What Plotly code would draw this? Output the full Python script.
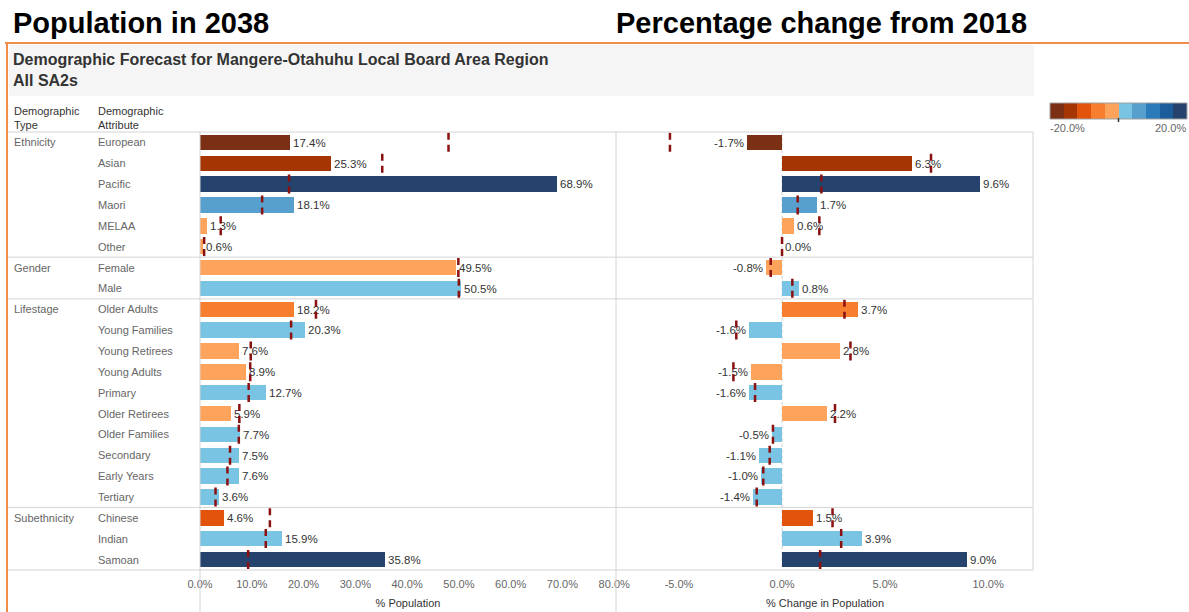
import plotly.graph_objects as go

W, H = 1189, 612

# ---------------- data ----------------
demo_types = ["Ethnicity"] * 6 + ["Gender"] * 2 + ["Lifestage"] * 10 + ["Subethnicity"] * 3
attributes = ["European", "Asian", "Pacific", "Maori", "MELAA", "Other",
              "Female", "Male",
              "Older Adults", "Young Families", "Young Retirees", "Young Adults", "Primary",
              "Older Retirees", "Older Families", "Secondary", "Early Years", "Tertiary",
              "Chinese", "Indian", "Samoan"]
pop_2038 = [17.4, 25.3, 68.9, 18.1, 1.3, 0.6,
            49.5, 50.5,
            18.2, 20.3, 7.6, 8.9, 12.7, 5.9, 7.7, 7.5, 7.6, 3.6,
            4.6, 15.9, 35.8]
pop_ref = [48.0, 35.2, 17.2, 12.0, 4.0, 0.8,
           49.9, 50.0,
           22.4, 17.6, 9.8, 9.7, 9.4, 7.6, 7.5, 5.8, 5.3, 3.0,
           13.5, 12.7, 9.3]
pct_change = [-1.7, 6.3, 9.6, 1.7, 0.6, 0.0,
              -0.8, 0.8,
              3.7, -1.6, 2.8, -1.5, -1.6, 2.2, -0.5, -1.1, -1.0, -1.4,
              1.5, 3.9, 9.0]
change_ref = [-5.44, 7.23, 1.91, 0.76, 1.81, 0.0,
              -0.55, 0.5,
              3.03, -2.22, 3.32, -2.36, -1.31, 2.57, -0.44, -0.6, -0.91, -1.23,
              2.45, 2.87, 1.85]
# colour step (0..9) of each row on the diverging palette
color_step = [0, 1, 9, 6, 4, 4,
              4, 5,
              3, 5, 4, 4, 5, 4, 5, 5, 5, 5,
              2, 5, 9]
palette = ["#7b2f14", "#a53503", "#e2530c", "#f67e2e", "#fda35c",
           "#79c4e2", "#57a0ce", "#2b7bba", "#1b5c9a", "#25436d"]
legend_bins = [-18, -14, -10, -6, -2, 2, 6, 10, 14, 18]
left_ticks = [0, 10, 20, 30, 40, 50, 60, 70, 80]
right_ticks = [-5, 0, 5, 10]

# --------------- helpers ---------------
def px(x):
    return x / W

def py(y):
    return 1 - y / H

FONT = "Liberation Sans, Arial, sans-serif"
rows = list(range(len(attributes)))
bar_colors = [palette[s] for s in color_step]

fig = go.Figure()

# population bars
fig.add_trace(go.Bar(
    x=pop_2038, y=rows, orientation="h", xaxis="x", yaxis="y",
    marker=dict(color=bar_colors, line=dict(width=0)), width=0.74,
    text=[f"{v:.1f}%" for v in pop_2038], textposition="outside",
    textfont=dict(size=11.5, color="#333333", family=FONT),
    constraintext="none", cliponaxis=False, showlegend=False,
))
# change bars
fig.add_trace(go.Bar(
    x=pct_change, y=rows, orientation="h", xaxis="x2", yaxis="y",
    marker=dict(color=bar_colors, line=dict(width=0)), width=0.74,
    text=[f"{v:.1f}%" for v in pct_change], textposition="outside",
    textfont=dict(size=11.5, color="#333333", family=FONT),
    constraintext="none", cliponaxis=False, showlegend=False,
))

# reference markers (dashed)
def ref_xy(vals):
    xs, ys = [], []
    for i, v in enumerate(vals):
        xs += [v, v, None]
        ys += [i - 0.46, i + 0.46, None]
    return xs, ys

for vals, xa in [(pop_ref, "x"), (change_ref, "x2")]:
    xs, ys = ref_xy(vals)
    fig.add_trace(go.Scatter(
        x=xs, y=ys, xaxis=xa, yaxis="y", mode="lines",
        line=dict(color="#8b1010", width=2.5, dash="7px,5px"),
        showlegend=False, hoverinfo="skip", cliponaxis=False,
    ))

# colour legend
fig.add_trace(go.Bar(
    x=legend_bins, y=[1] * len(legend_bins), width=4, xaxis="x3", yaxis="y3",
    marker=dict(color=palette, line=dict(width=0)), showlegend=False, hoverinfo="skip",
))

top_px, bot_px = 132, 570
ydom = [py(bot_px), py(top_px)]

axis_common = dict(showgrid=False, zeroline=False, showline=False, ticks="", automargin=False,
                   ticklabelstandoff=6,
                   tickfont=dict(size=11, color="#666666", family=FONT),
                   title_font=dict(size=11, color="#333333", family=FONT))

fig.update_layout(
    width=W, height=H, autosize=False, margin=dict(l=0, r=0, t=0, b=0, pad=0),
    paper_bgcolor="white", plot_bgcolor="rgba(0,0,0,0)",
    font=dict(family=FONT),
    bargap=0,
    xaxis=dict(domain=[px(200), px(616)], range=[0, 80.35], anchor="y",
               tickvals=left_ticks, ticktext=[f"{t:.1f}%" for t in left_ticks],
               title=dict(text="% Population", standoff=10), **axis_common),
    xaxis2=dict(domain=[px(617), px(1033)], range=[-8.01, 12.18], anchor="y",
                tickvals=right_ticks, ticktext=[f"{t:.1f}%" for t in right_ticks],
                title=dict(text="% Change in Population", standoff=10), **axis_common),
    yaxis=dict(domain=ydom, range=[len(rows) - 0.5, -0.5], visible=False, automargin=False),
    xaxis3=dict(domain=[px(1050), px(1187)], range=[-20, 20], visible=False, anchor="y3",
                automargin=False),
    yaxis3=dict(domain=[py(119), py(103)], range=[0, 1], visible=False, anchor="x3",
                automargin=False),
)

shapes = []
line_col = "#d4d4d4"
# orange frame
shapes.append(dict(type="line", xref="paper", yref="paper", x0=px(5), x1=1, y0=py(43), y1=py(43),
                   line=dict(color="#f28e4a", width=2)))
shapes.append(dict(type="line", xref="paper", yref="paper", x0=px(7), x1=px(7), y0=py(43), y1=0,
                   line=dict(color="#f28e4a", width=2)))
# title box
shapes.append(dict(type="rect", xref="paper", yref="paper", x0=px(9), x1=px(1034), y0=py(96), y1=py(45),
                   fillcolor="#f5f5f5", line=dict(width=0), layer="below"))
# header separator and bottom line
for yy in [top_px, bot_px]:
    shapes.append(dict(type="line", xref="paper", yref="paper", x0=px(8), x1=px(1033), y0=py(yy), y1=py(yy),
                       line=dict(color=line_col, width=1)))
# group separators
prev = demo_types[0]
for i, t in enumerate(demo_types):
    if t != prev:
        shapes.append(dict(type="line", xref="paper", yref="y", x0=px(8), x1=px(1033), y0=i - 0.5, y1=i - 0.5,
                           line=dict(color=line_col, width=1)))
    prev = t
# vertical panel lines
for xx, yb in [(200, H), (616, H), (1033, bot_px)]:
    shapes.append(dict(type="line", xref="paper", yref="paper", x0=px(xx), x1=px(xx), y0=py(top_px), y1=py(yb),
                       line=dict(color=line_col, width=1)))
# zero line on change panel
shapes.append(dict(type="line", xref="x2", yref="paper", x0=0, x1=0, y0=py(top_px), y1=py(bot_px),
                   line=dict(color="#cfcfcf", width=1, dash="dot"), layer="below"))
# legend border + tick
shapes.append(dict(type="rect", xref="x3 domain", yref="y3 domain", x0=0, x1=1, y0=0, y1=1,
                   line=dict(color="#a0a0a0", width=1)))
shapes.append(dict(type="line", xref="x3", yref="paper", x0=0, x1=0, y0=py(118), y1=py(122),
                   line=dict(color="#333333", width=1.5)))
fig.update_layout(shapes=shapes)

ann = []
ann.append(dict(text="<b>Population in 2038</b>", x=px(11), y=py(23), xref="paper", yref="paper",
                xanchor="left", yanchor="middle", showarrow=False,
                font=dict(size=29, color="#000000", family=FONT)))
ann.append(dict(text="<b>Percentage change from 2018</b>", x=px(614), y=py(23), xref="paper", yref="paper",
                xanchor="left", yanchor="middle", showarrow=False,
                font=dict(size=29, color="#000000", family=FONT)))
ann.append(dict(text="<b>Demographic Forecast for Mangere-Otahuhu Local Board Area Region<br>All SA2s</b>",
                x=px(11), y=py(49), xref="paper", yref="paper", xanchor="left", yanchor="top",
                align="left", showarrow=False, font=dict(size=16, color="#333333", family=FONT)))
ann.append(dict(text="Demographic<br>Type", x=px(12), y=py(103), xref="paper", yref="paper",
                xanchor="left", yanchor="top", align="left", showarrow=False,
                font=dict(size=11, color="#333333", family=FONT)))
ann.append(dict(text="Demographic<br>Attribute", x=px(96), y=py(103), xref="paper", yref="paper",
                xanchor="left", yanchor="top", align="left", showarrow=False,
                font=dict(size=11, color="#333333", family=FONT)))
prev = None
for i, (t, a) in enumerate(zip(demo_types, attributes)):
    if t != prev:
        ann.append(dict(text=t, x=px(12), y=i, xref="paper", yref="y", xanchor="left", yanchor="middle",
                        showarrow=False, font=dict(size=11, color="#666666", family=FONT)))
    prev = t
    ann.append(dict(text=a, x=px(96), y=i, xref="paper", yref="y", xanchor="left", yanchor="middle",
                    showarrow=False, font=dict(size=11, color="#666666", family=FONT)))
ann.append(dict(text="-20.0%", x=px(1048), y=py(128), xref="paper", yref="paper", xanchor="left",
                yanchor="middle", showarrow=False, font=dict(size=11, color="#666666", family=FONT)))
ann.append(dict(text="20.0%", x=px(1188), y=py(128), xref="paper", yref="paper", xanchor="right",
                yanchor="middle", showarrow=False, font=dict(size=11, color="#666666", family=FONT)))
fig.update_layout(annotations=ann)

fig.write_html("out.html", config={"displayModeBar": False},
               post_script="document.body.style.margin='0';document.body.style.overflow='hidden';")
